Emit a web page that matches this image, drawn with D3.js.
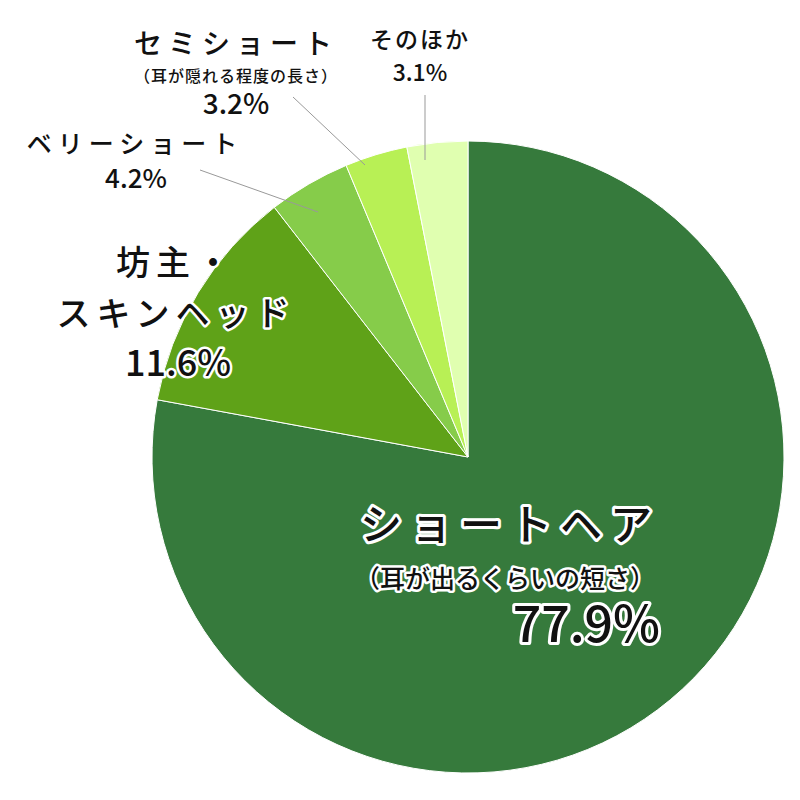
<!DOCTYPE html><html><head><meta charset="utf-8"><script src="https://cdn.jsdelivr.net/npm/d3@7"></script>
<style>body{margin:0;background:#fff}</style></head><body><svg width="800" height="800"></svg><script>
const categories=["ショートヘア","坊主・スキンヘッド","ベリーショート","セミショート","そのほか"];
const values=[77.9,11.6,4.2,3.2,3.1];
const colors=["#367a3c","#5fa218","#86cc4a","#b8f055","#e0ffb0"];
const svg=d3.select("svg");
const cx=468,cy=457,r=316;
const pie=d3.pie().sort(null).value(d=>d)(values);
const arc=d3.arc().innerRadius(0).outerRadius(r);
svg.append("g").attr("transform",`translate(${cx},${cy})`).selectAll("path").data(pie).join("path")
 .attr("d",arc).attr("fill",(d,i)=>colors[i]).attr("stroke","#fff").attr("stroke-width",1);
[[200,170,318,212],[293,97,365,165],[425,95,425,160]].forEach(l=>svg.append("line")
 .attr("x1",l[0]).attr("y1",l[1]).attr("x2",l[2]).attr("y2",l[3]).attr("stroke","#999").attr("stroke-width",1));
const F="'Noto Sans CJK JP', sans-serif";
function t(x,y,s,size,anchor,ls,halo){
 const e=svg.append("text").attr("x",x).attr("y",y).text(s).attr("font-family",F).attr("font-size",size)
  .attr("font-weight",500).attr("text-anchor",anchor).attr("letter-spacing",ls).attr("fill","#111");
 if(halo) e.attr("stroke","#fff").attr("stroke-width",halo).attr("paint-order","stroke").attr("stroke-linejoin","round");
}
t(510,540,"ショートヘア",42,"middle","8px",6);
t(505,588,"（耳が出るくらいの短さ）",25,"middle","0px",5);
t(660,642,"77.9%",50,"end","0px",6);
t(176,275,"坊主・",34,"middle","6px",5);
t(176,326,"スキンヘッド",34,"middle","6px",5);
t(178,376,"11.6%",36,"middle","0px",5);
t(135,153,"ベリーショート",25,"middle","6px",4);
t(136,188,"4.2%",26,"middle","0px",4);
t(236,54,"セミショート",28,"middle","6px",4);
t(236,82,"（耳が隠れる程度の長さ）",16,"middle","1px",3);
t(236,114,"3.2%",28,"middle","0px",4);
t(420,48,"そのほか",23,"middle","2px",3);
t(420,81,"3.1%",23,"middle","0px",3);
</script></body></html>
